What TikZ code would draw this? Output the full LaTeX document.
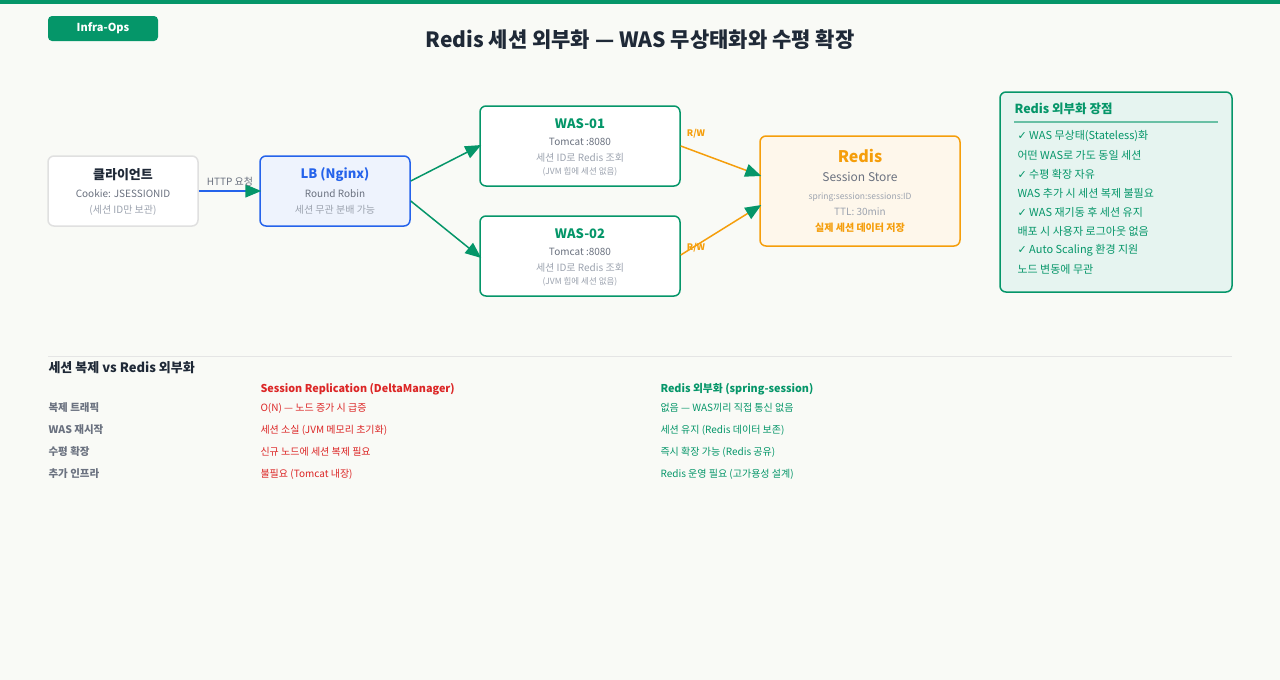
\documentclass[tikz,border=0pt]{standalone}
\usepackage{fontspec}
\setmainfont{Noto Sans CJK KR}
\newfontfamily\symfont{DejaVu Sans}
\newcommand{\chk}{{\symfont\char"2713}}
\usetikzlibrary{arrows.meta, positioning, calc}
\definecolor{CGreen}{HTML}{059669}
\definecolor{CBlue}{HTML}{2563EB}
\definecolor{COrange}{HTML}{F59E0B}
\definecolor{CRed}{HTML}{DC2626}
\definecolor{CText}{HTML}{1F2937}
\definecolor{CGray}{HTML}{6B7280}
\definecolor{CLight}{HTML}{9CA3AF}
\definecolor{CBg}{HTML}{F9FAF6}

\tikzset{
  box/.style={draw, line width=1.5pt, rounded corners=6pt, inner sep=0pt},
  ttl/.style={font=\bfseries\fontsize{13}{15}\selectfont},
  sub/.style={font=\fontsize{10}{12}\selectfont, text=CText!80},
  dim/.style={font=\fontsize{10}{12}\selectfont, text=CLight},
  tiny/.style={font=\fontsize{8.5}{10}\selectfont, text=CLight},
  flow/.style={line width=1.5pt, -{Triangle[length=16pt,width=13pt,fill=CGreen,color=CGreen]}},
  item/.style={font=\fontsize{11}{13}\selectfont, text=CGreen, anchor=west},
  rowlab/.style={font=\bfseries\fontsize{10.5}{12}\selectfont, text=CGray, anchor=west},
  cell/.style={font=\fontsize{10}{12}\selectfont, anchor=west},
}

\begin{document}
\begin{tikzpicture}[x=1pt, y=-1pt]
  \fill[CBg] (0,0) rectangle (1280,680);
  \useasboundingbox (0,0) rectangle (1280,680);
  \fill[CGreen] (0,0) rectangle (1280,4);

  % Badge and title
  \node[fill=CGreen, rounded corners=4pt, minimum width=110pt, minimum height=25pt, text=white,
        font=\bfseries\fontsize{11}{13}\selectfont] (badge) at (103,28.5) {Infra-Ops};
  \node[font=\bfseries\fontsize{21}{25}\selectfont, text=CText] (title) at (640,40) {Redis 세션 외부화 — WAS 무상태화와 수평 확장};

  % Client
  \node[box, draw=black!12, fill=white, minimum width=150pt, minimum height=70pt] (client) at (123,191) {};
  \node[ttl, text=CText] at (123,175) {클라이언트};
  \node[sub, text=CGray] at (123,194) {Cookie: JSESSIONID};
  \node[dim] at (123,210) {(세션 ID만 보관)};

  % Load balancer
  \node[box, draw=CBlue, fill=CBlue!8, minimum width=150pt, minimum height=70pt] (lb) at (335,191) {};
  \node[ttl, text=CBlue] at (335,175) {LB (Nginx)};
  \node[sub, text=CGray] at (335,194) {Round Robin};
  \node[dim] at (335,210) {세션 무관 분배 가능};

  % WAS nodes
  \foreach \name/\lbl/\yc in {was1/WAS-01/146, was2/WAS-02/256} {
    \node[box, draw=CGreen, fill=white, minimum width=200pt, minimum height=80pt] (\name) at (580,\yc) {};
    \node[ttl, text=CGreen] at (580,\yc-22) {\lbl};
    \node[sub, text=CGray] at (580,\yc-4) {Tomcat :8080};
    \node[dim] at (580,\yc+12) {세션 ID로 Redis 조회};
    \node[tiny] at (580,\yc+26) {(JVM 힙에 세션 없음)};
  }

  % Redis
  \node[box, draw=COrange, fill=COrange!8, minimum width=200pt, minimum height=110pt] (redis) at (860,191) {};
  \node[font=\bfseries\fontsize{16}{18}\selectfont, text=COrange] at (860,156) {Redis};
  \node[font=\fontsize{12}{14}\selectfont, text=CGray] at (860,177) {Session Store};
  \node[tiny] at (860,197) {spring:session:sessions:ID};
  \node[dim] at (860,212) {TTL: 30min};
  \node[font=\bfseries\fontsize{10}{12}\selectfont, text=COrange] at (860,228) {실제 세션 데이터 저장};

  % Connectors
  \draw[flow, CBlue] (client.east) -- ($(lb.west)+(2,0)$)
    node[midway, above=1pt, font=\fontsize{10}{12}\selectfont, text=CGray] {HTTP 요청};
  \draw[flow, CGreen] ($(lb.east)+(0,-10)$) -- ($(was1.west)+(2,-1)$);
  \draw[flow, CGreen] ($(lb.east)+(0,10)$) -- ($(was2.west)+(2,2)$);
  \draw[flow, COrange] ($(was1.east)+(0,0)$) -- ($(redis.west)+(2,-15)$);
  \draw[flow, COrange] ($(was2.east)+(0,-1)$) -- ($(redis.west)+(2,14)$);
  \node[font=\bfseries\fontsize{9}{11}\selectfont, text=COrange] (rw1) at (696,134) {R/W};
  \node[font=\bfseries\fontsize{9}{11}\selectfont, text=COrange] (rw2) at (696,248) {R/W};

  % Benefits panel
  \node[box, draw=CGreen, fill=CGreen!10, minimum width=232pt, minimum height=200pt] (panel) at (1116,192) {};
  \node[font=\bfseries\fontsize{12.5}{15}\selectfont, text=CGreen, anchor=west] at (1011,109) {Redis 외부화 장점};
  \draw[CGreen!60, line width=1.5pt] (1014,122) -- (1218,122);
  \foreach \txt [count=\i] in {\chk\ WAS 무상태(Stateless)화, 어떤 WAS로 가도 동일 세션, \chk\ 수평 확장 자유,
      WAS 추가 시 세션 복제 불필요, \chk\ WAS 재기동 후 세션 유지, 배포 시 사용자 로그아웃 없음,
      \chk\ Auto Scaling 환경 지원, 노드 변동에 무관}
    \node[item] at (1014,117+\i*19) {\txt};

  % Comparison table
  \draw[black!10, line width=1pt] (48,356) -- (1232,356);
  \node[font=\bfseries\fontsize{13}{15}\selectfont, text=CText, anchor=west] at (45,368) {세션 복제 vs Redis 외부화};
  \node[font=\bfseries\fontsize{10.8}{13}\selectfont, text=CRed, anchor=west] at (257,389) {Session Replication (DeltaManager)};
  \node[font=\bfseries\fontsize{10.8}{13}\selectfont, text=CGreen, anchor=west] at (657,389) {Redis 외부화 (spring-session)};
  \foreach \lab/\rep/\red [count=\i] in {
      복제 트래픽/O(N) — 노드 증가 시 급증/없음 — WAS끼리 직접 통신 없음,
      WAS 재시작/세션 소실 (JVM 메모리 초기화)/세션 유지 (Redis 데이터 보존),
      수평 확장/신규 노드에 세션 복제 필요/즉시 확장 가능 (Redis 공유),
      추가 인프라/불필요 (Tomcat 내장)/Redis 운영 필요 (고가용성 설계)} {
    \node[rowlab] at (45,386+\i*22) {\lab};
    \node[cell, text=CRed] at (257,386+\i*22) {\rep};
    \node[cell, text=CGreen] at (657,386+\i*22) {\red};
  }
\end{tikzpicture}
\end{document}
